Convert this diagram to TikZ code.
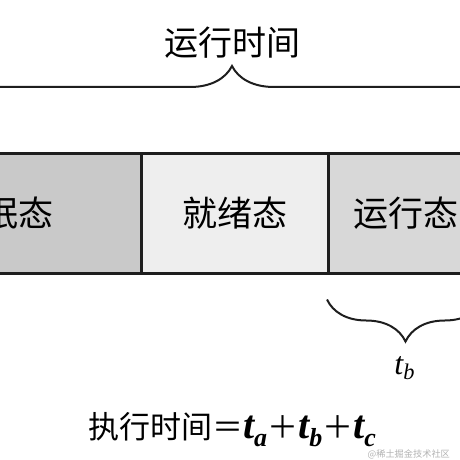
\documentclass[tikz,border=0pt]{standalone}
\usepackage{fontspec}
\setmainfont{Liberation Serif}
\newfontfamily\cjk{Noto Sans CJK SC}
\usetikzlibrary{decorations.pathreplacing}

\definecolor{sleepgray}{RGB}{201,201,201}
\definecolor{readygray}{RGB}{238,238,238}
\definecolor{rungray}{RGB}{216,216,216}
\definecolor{edgegray}{RGB}{30,30,30}

% bold italic t with subscript
\newcommand{\tsub}[1]{{\rmfamily\fontsize{20pt}{22pt}\selectfont\bfseries\itshape t}\raisebox{-4pt}{\rmfamily\fontsize{13pt}{15pt}\selectfont\bfseries\itshape #1}}

\begin{document}
\begin{tikzpicture}[x=0.5pt, y=-0.5pt,
    cellbox/.style={draw=edgegray, line width=1.5pt, minimum height=60pt, inner sep=0pt,
        font=\cjk\fontsize{17.5pt}{20pt}\selectfont},
    bracebar/.style={decorate, draw=edgegray, line width=1pt,
        decoration={brace, amplitude=21pt}}]
\useasboundingbox (0,0) rectangle (460,460);
\clip (0,0) rectangle (460,460);

% States
\node[cellbox, fill=sleepgray, minimum width=140pt] (sleep) at (1,213) {睡眠态};
\node[cellbox, fill=readygray, minimum width=94pt] (ready) at (235,213) {就绪态};
\node[cellbox, fill=rungray, minimum width=77pt] (run) at (405.5,213) {运行态};

% Running time
\coordinate (topL) at (-139,108);
\coordinate (topR) at (603,108);
\draw[bracebar] (topL) -- (topR);
\node[font=\cjk\fontsize{17pt}{20pt}\selectfont] (runtime) at (232,43) {运行时间};

% t_b
\draw[bracebar] ([yshift=-12.5pt]run.south east) -- ([yshift=-12.5pt]run.south west);
\node[font=\fontsize{16pt}{18pt}\selectfont] (tb) at (405,368) {\textit{t\textsubscript{b}}};

% Execution time
\node[font=\cjk\fontsize{15.5pt}{18pt}\selectfont] (exectime) at (232,430)
    {执行时间＝\tsub{a}＋\tsub{b}＋\tsub{c}};
\node[font=\cjk\fontsize{4.6pt}{5pt}\selectfont, text=gray!60, anchor=east] (mark) at (457,454) {@稀土掘金技术社区};
\end{tikzpicture}
\end{document}
